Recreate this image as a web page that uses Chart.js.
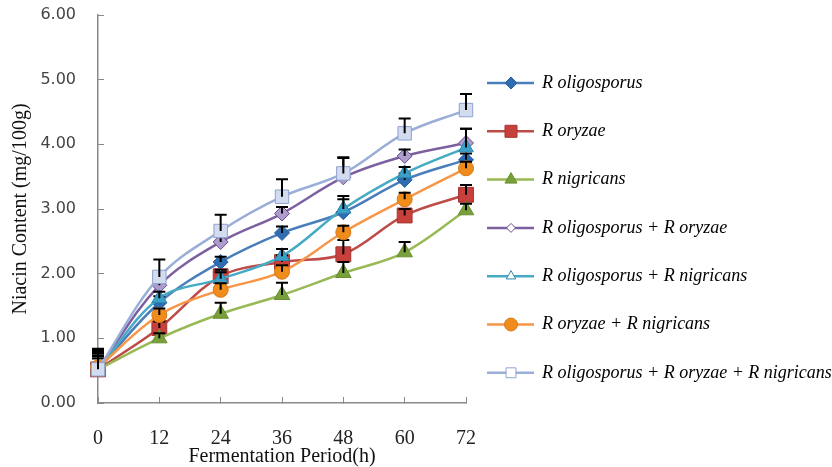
<!DOCTYPE html>
<html>
<head>
<meta charset="utf-8">
<script src="https://cdn.jsdelivr.net/npm/chart.js@4.4.1/dist/chart.umd.min.js"></script>
<style>
  html, body { margin: 0; padding: 0; background: #fff; }
  #wrap { width: 832px; height: 467px; }
</style>
</head>
<body>
<div id="wrap"><canvas id="chart"></canvas></div>
<script>
// fermentation time points (h)
const hours = ["0", "12", "24", "36", "48", "60", "72"];

const seriesNames = [
  "R oligosporus",
  "R oryzae",
  "R nigricans",
  "R oligosporus + R oryzae",
  "R oligosporus + R nigricans",
  "R oryzae + R nigricans",
  "R oligosporus + R oryzae + R nigricans"
];

// niacin content, mg/100g
const oligosporus = [0.52, 1.55, 2.18, 2.63, 2.95, 3.45, 3.76];
const oryzae = [0.52, 1.16, 1.96, 2.18, 2.30, 2.90, 3.22];
const nigricans = [0.52, 1.00, 1.38, 1.67, 2.01, 2.33, 2.98];
const oligoOryzae = [0.52, 1.82, 2.49, 2.93, 3.49, 3.82, 4.02];
const oligoNigricans = [0.52, 1.62, 1.92, 2.27, 3.00, 3.55, 3.95];
const oryzaeNigricans = [0.55, 1.36, 1.75, 2.03, 2.64, 3.15, 3.63];
const allThree = [0.52, 1.95, 2.66, 3.19, 3.55, 4.17, 4.53];

// upper error bars
const errOligosporus = [0.17, 0.10, 0.08, 0.10, 0.20, 0.10, 0.10];
const errOryzae = [0.20, 0.10, 0.10, 0.10, 0.22, 0.10, 0.15];
const errNigricans = [0.22, 0.08, 0.17, 0.19, 0.17, 0.16, 0.10];
const errOligoOryzae = [0.25, 0.10, 0.08, 0.10, 0.30, 0.10, 0.22];
const errOligoNigricans = [0.27, 0.10, 0.10, 0.11, 0.20, 0.10, 0.29];
const errOryzaeNigricans = [0.27, 0.10, 0.10, 0.10, 0.10, 0.10, 0.10];
const errAllThree = [0.32, 0.27, 0.25, 0.27, 0.25, 0.23, 0.25];

const yTicks = [0, 1, 2, 3, 4, 5, 6];

const values = [oligosporus, oryzae, nigricans, oligoOryzae, oligoNigricans, oryzaeNigricans, allThree];
const errors = [errOligosporus, errOryzae, errNigricans, errOligoOryzae, errOligoNigricans, errOryzaeNigricans, errAllThree];

const styles = [
  { line: "#4a7ebb", fill: "#2f6db3", border: "#285f9e", shape: "rectRot", r: 7.5, lr: 6, lfill: "#2f6db3" },
  { line: "#be4b48", fill: "#c8403b", border: "#a53532", shape: "rect", r: 10.5, lr: 8.5, lfill: "#c8403b" },
  { line: "#98b954", fill: "#77a03a", border: "#6a8f33", shape: "triangle", r: 9, lr: 7, lfill: "#77a03a" },
  { line: "#7d60a0", fill: "#ad9ccc", border: "#6a4f8f", shape: "rectRot", r: 7.5, lr: 4.5, lfill: "#ffffff" },
  { line: "#46aac5", fill: "#3aa0c8", border: "#2f87ab", shape: "triangle", r: 8.5, lr: 5.5, lfill: "#ffffff" },
  { line: "#f79646", fill: "#ef8c1c", border: "#d7791a", shape: "circle", r: 7.5, lr: 6.5, lfill: "#ef8c1c" },
  { line: "#9aaed8", fill: "#d3dbef", border: "#8ea2cf", shape: "rect", r: 9.5, lr: 7, lfill: "#ffffff" }
];

const errorBars = {
  id: "errorBars",
  afterDatasetDraw(chart, args) {
    const ds = chart.data.datasets[args.index];
    if (!ds.errors) return;
    const y = chart.scales.y;
    const ctx = chart.ctx;
    ctx.save();
    ctx.strokeStyle = "#000";
    ctx.lineWidth = 2;
    args.meta.data.forEach((pt, i) => {
      const top = y.getPixelForValue(ds.data[i] + ds.errors[i]);
      ctx.beginPath();
      ctx.moveTo(pt.x, pt.y);
      ctx.lineTo(pt.x, top);
      ctx.moveTo(pt.x - 6, top);
      ctx.lineTo(pt.x + 6, top);
      ctx.stroke();
    });
    ctx.restore();
  }
};

const sideLegend = {
  id: "sideLegend",
  afterDraw(chart) {
    const ctx = chart.ctx;
    ctx.save();
    chart.data.datasets.forEach((ds, i) => {
      const st = styles[i];
      const y = 83 + i * 48.3;
      ctx.strokeStyle = st.line;
      ctx.lineWidth = 2.5;
      ctx.beginPath();
      ctx.moveTo(487, y);
      ctx.lineTo(534, y);
      ctx.stroke();
      ctx.fillStyle = st.lfill;
      ctx.strokeStyle = st.border;
      ctx.lineWidth = 1;
      Chart.helpers.drawPoint(ctx, { pointStyle: st.shape, radius: st.lr, rotation: 0, borderWidth: 1 }, 511, y);
      ctx.fillStyle = "#000";
      ctx.font = "italic 18px 'Liberation Serif'";
      ctx.textBaseline = "middle";
      ctx.textAlign = "left";
      ctx.fillText(ds.label, 542, y);
    });
    ctx.restore();
  }
};

const datasets = values.map((vals, i) => ({
  label: seriesNames[i],
  data: vals,
  errors: errors[i],
  order: -i,
  borderColor: styles[i].line,
  borderWidth: 2.5,
  tension: 0.35,
  pointStyle: styles[i].shape,
  pointRadius: styles[i].r,
  pointBackgroundColor: styles[i].fill,
  pointBorderColor: styles[i].border,
  pointBorderWidth: 1
}));

new Chart(document.getElementById("chart"), {
  type: "line",
  data: { labels: hours, datasets: datasets },
  plugins: [errorBars, sideLegend],
  options: {
    responsive: true,
    maintainAspectRatio: false,
    animation: false,
    layout: { padding: { left: 0, top: 15, right: 366, bottom: 0 } },
    plugins: {
      legend: { display: false },
      tooltip: { enabled: false }
    },
    scales: {
      x: {
        offset: false,
        afterFit(scale) { scale.height = 64; scale.paddingLeft = 0; scale.paddingRight = 0; },
        border: { color: "#8a8a8a", width: 1.5 },
        grid: { drawOnChartArea: false, drawTicks: true, tickLength: -6, color: "#8a8a8a" },
        ticks: {
          color: "#222",
          padding: 30,
          maxRotation: 0,
          font: { family: "'Liberation Serif'", size: 20 }
        },
        title: {
          display: true,
          text: "Fermentation Period(h)",
          color: "#111",
          padding: { top: 0, bottom: 0 },
          font: { family: "'Liberation Serif'", size: 20, lineHeight: 1.0 }
        }
      },
      y: {
        min: 0,
        max: 6,
        afterFit(scale) { scale.width = 98; scale.paddingTop = 0; scale.paddingBottom = 0; },
        afterBuildTicks(scale) { scale.ticks = yTicks.map(v => ({ value: v })); },
        border: { color: "#8a8a8a", width: 1.5 },
        grid: { drawOnChartArea: false, drawTicks: true, tickLength: -6, color: "#8a8a8a" },
        ticks: {
          color: "#444",
          padding: 28,
          callback: v => Number(v).toFixed(2),
          font: { family: "'DejaVu Sans'", size: 16 }
        },
        title: {
          display: true,
          text: "Niacin Content (mg/100g)",
          color: "#111",
          padding: { top: 9, bottom: 0 },
          font: { family: "'Liberation Serif'", size: 20 }
        }
      }
    }
  }
});
</script>
</body>
</html>
